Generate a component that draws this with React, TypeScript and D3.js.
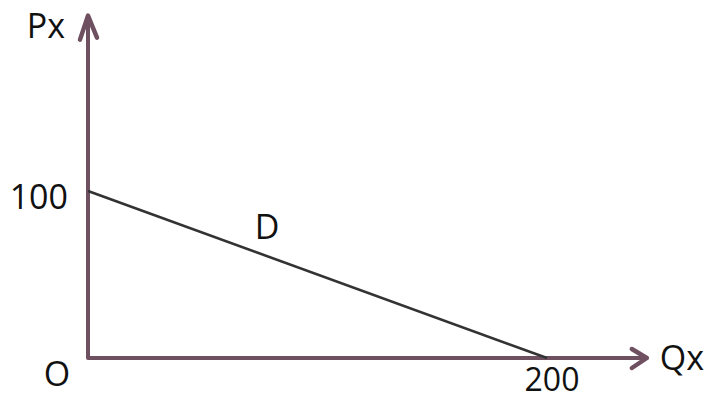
import React from "react";
import * as d3 from "d3";

const qValues = [0, 200];
const pValues = [100, 0];
const xTickLabels = ["200"];
const yTickLabels = ["100"];
const axisLabels = { x: "Qx", y: "Px", origin: "O", curve: "D" };

const W = 708;
const H = 401;

export default function App() {
  const x = d3.scaleLinear().domain([0, 200]).range([88, 547]);
  const y = d3.scaleLinear().domain([0, 100]).range([358, 191]);
  const xMax = 243.5;
  const yMax = 205;
  const axisColor = "#6e5060";
  const lineColor = "#333333";
  const font = "'Open Sans', 'Noto Sans', sans-serif";

  const demand = d3
    .line<number>()
    .x((_, i) => x(qValues[i]))
    .y((d) => y(d))(pValues);

  const x0 = x(0);
  const y0 = y(0);
  const yTop = y(yMax);
  const xEnd = x(xMax);

  return (
    <svg
      width={W}
      height={H}
      style={{ position: "absolute", left: 0, top: 0, background: "#fff" }}
    >
      {/* axes */}
      <path
        d={`M${x0},${yTop + 2} L${x0},${y0} L${xEnd - 2},${y0}`}
        fill="none"
        stroke={axisColor}
        strokeWidth={4}
        strokeLinejoin="round"
      />
      {/* y arrow */}
      <path
        d={`M${x0 - 8},${yTop + 24} L${x0},${yTop} L${x0 + 9},${yTop + 22}`}
        fill="none"
        stroke={axisColor}
        strokeWidth={4.5}
        strokeLinejoin="round"
        strokeLinecap="round"
      />
      {/* x arrow */}
      <path
        d={`M${xEnd - 15},${y0 - 9} L${xEnd},${y0} L${xEnd - 15},${y0 + 10}`}
        fill="none"
        stroke={axisColor}
        strokeWidth={4.5}
        strokeLinejoin="round"
        strokeLinecap="round"
      />
      {/* demand line */}
      <path d={demand || ""} fill="none" stroke={lineColor} strokeWidth={2.6} />

      {/* labels */}
      <g fontFamily={font} fill="#111" fontSize={34}>
        <text x={x0 - 23} y={yTop + 22} textAnchor="end">
          {axisLabels.y}
        </text>
        <text x={x0 - 20} y={y(100) + 18} textAnchor="end">
          {yTickLabels[0]}
        </text>
        <text x={x0 - 31} y={y0 + 28} textAnchor="middle">
          {axisLabels.origin}
        </text>
        <text x={x(200) + 5} y={y0 + 33} textAnchor="middle" fontSize={32}>
          {xTickLabels[0]}
        </text>
        <text x={xEnd + 13} y={y0 + 12} textAnchor="start">
          {axisLabels.x}
        </text>
        <text x={x(78)} y={y(71)} textAnchor="middle">
          {axisLabels.curve}
        </text>
      </g>
    </svg>
  );
}
